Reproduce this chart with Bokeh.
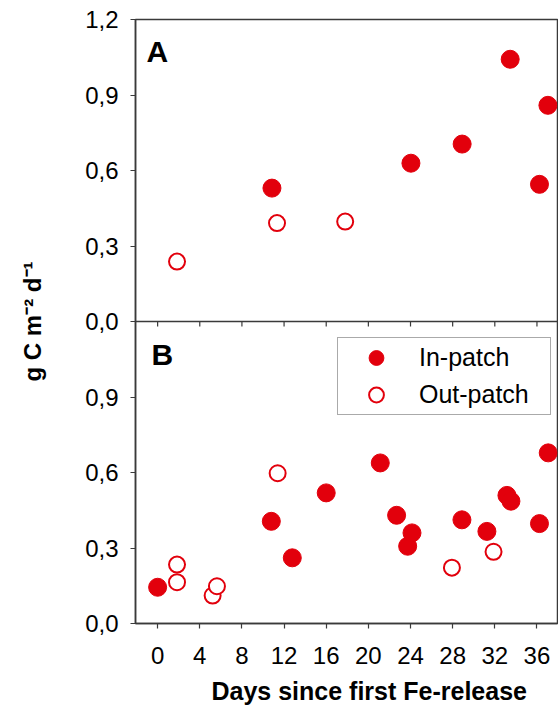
from bokeh.plotting import figure
from bokeh.models import Range1d, FixedTicker, Span, Label, Legend, LegendItem, Title
from bokeh.embed import file_html
from bokeh.resources import INLINE

# ---- data ----
# Panel A (top)
in_x_A = [10.85, 24.04, 28.9, 33.46, 37.04, 36.24]
in_y_A = [0.530, 0.629, 0.705, 1.042, 0.859, 0.545]
out_x_A = [1.84, 11.33, 17.8]
out_y_A = [0.238, 0.391, 0.397]

# Panel B (bottom)
in_x_B = [0.0, 10.79, 12.78, 16.0, 21.13, 22.68, 23.73, 24.14, 28.88, 31.25, 33.15, 33.53, 36.24, 37.07]
in_y_B = [0.144, 0.406, 0.261, 0.519, 0.638, 0.430, 0.307, 0.360, 0.412, 0.366, 0.509, 0.486, 0.397, 0.678]
out_x_B = [1.84, 1.84, 5.22, 5.63, 11.39, 27.93, 31.88]
out_y_B = [0.234, 0.164, 0.111, 0.148, 0.597, 0.222, 0.285]

x_ticks = [0, 4, 8, 12, 16, 20, 24, 28, 32, 36]
y_tick_values = [0.0, 0.3, 0.6, 0.9, 1.2]
y_tick_labels = ["0,0", "0,3", "0,6", "0,9", "1,2"]
panel_labels = ["A", "B"]
series_names = ["In-patch", "Out-patch"]
x_title = "Days since first Fe-release"
y_title = "g C m\u207b\u00b2 d\u207b\u00b9"

# ---- style ----
RED = "#e2000c"
AX = "#3a3a3a"
FONT = "Liberation Sans"
PANEL_SPAN = 1.2  # each panel covers 0..1.2

p = figure(frame_width=422, frame_height=604,
           min_border_left=135, min_border_right=1, min_border_top=19, min_border_bottom=96,
           x_range=Range1d(-2.1, 37.95), y_range=Range1d(0, 2 * PANEL_SPAN),
           output_backend="svg", toolbar_location=None)
p.extra_y_ranges = {"top": Range1d(-PANEL_SPAN, PANEL_SPAN)}

p.xgrid.visible = False
p.ygrid.visible = False
p.outline_line_color = AX
p.outline_line_width = 1.5
p.background_fill_color = "white"
p.border_fill_color = "white"

# y axis: stacked ticks for both panels (bottom panel 0..1.2, top panel above it)
stack_ticks = y_tick_values + [v + PANEL_SPAN for v in y_tick_values[1:]]
stack_labels = y_tick_labels[:-1] + [y_tick_labels[0]] + y_tick_labels[1:]
p.yaxis.ticker = FixedTicker(ticks=stack_ticks)
p.yaxis.major_label_overrides = dict(zip(stack_ticks, stack_labels))
p.xaxis.ticker = FixedTicker(ticks=x_ticks)
for ax in (p.xaxis[0], p.yaxis[0]):
    ax.axis_line_color = AX
    ax.axis_line_width = 1.5
    ax.major_tick_line_color = AX
    ax.major_tick_line_width = 1.2
    ax.major_tick_out = 5
    ax.major_tick_in = 0
    ax.minor_tick_line_color = None
    ax.major_label_text_font = FONT
    ax.major_label_text_font_size = "24px"
    ax.major_label_text_color = "black"
p.xaxis.major_label_standoff = 18
p.yaxis.major_label_standoff = 12

# axis titles
p.yaxis.axis_label = y_title
p.yaxis.axis_label_standoff = 36
p.yaxis.axis_label_text_font = FONT
p.yaxis.axis_label_text_font_size = "24px"
p.yaxis.axis_label_text_font_style = "bold"
p.yaxis.axis_label_text_color = "black"
p.add_layout(Title(text=x_title, align="left", offset=76, standoff=16,
                   text_font=FONT, text_font_size="25px", text_font_style="bold",
                   text_color="black"), "below")

# separator between panels with downward ticks
p.add_layout(Span(location=PANEL_SPAN, dimension="width", line_color=AX, line_width=1.5))
tick_len = 5 * (2 * PANEL_SPAN) / 604
p.segment(x0=x_ticks, y0=[PANEL_SPAN] * len(x_ticks), x1=x_ticks,
          y1=[PANEL_SPAN - tick_len] * len(x_ticks), line_color=AX, line_width=1.2)

# data points
p.scatter(in_x_A, in_y_A, y_range_name="top", size=18, fill_color=RED, line_color=RED)
p.scatter(out_x_A, out_y_A, y_range_name="top", size=16, fill_color="white", line_color=RED, line_width=2)
rB_in = p.scatter(in_x_B, in_y_B, size=18, fill_color=RED, line_color=RED)
rB_out = p.scatter(out_x_B, out_y_B, size=16, fill_color="white", line_color=RED, line_width=2)

legend = Legend(items=[LegendItem(label=series_names[0], renderers=[rB_in]),
                       LegendItem(label=series_names[1], renderers=[rB_out])],
                location=(202, 208), margin=0, padding=1, spacing=0,
                glyph_width=74, glyph_height=37, label_standoff=6, label_width=130,
                label_text_font=FONT, label_text_font_size="25px", label_text_color="black",
                border_line_color="#555555", border_line_width=1,
                background_fill_color="white", background_fill_alpha=1.0)
p.add_layout(legend)

# panel letters
p.add_layout(Label(x=11, y=572, x_units="screen", y_units="screen", text=panel_labels[0],
                   text_font=FONT, text_font_size="30px", text_font_style="bold", text_color="black",
                   text_align="left", text_baseline="alphabetic"))
p.add_layout(Label(x=16, y=269, x_units="screen", y_units="screen", text=panel_labels[1],
                   text_font=FONT, text_font_size="30px", text_font_style="bold", text_color="black",
                   text_align="left", text_baseline="alphabetic"))

open("out.html", "w").write(file_html(p, INLINE))
